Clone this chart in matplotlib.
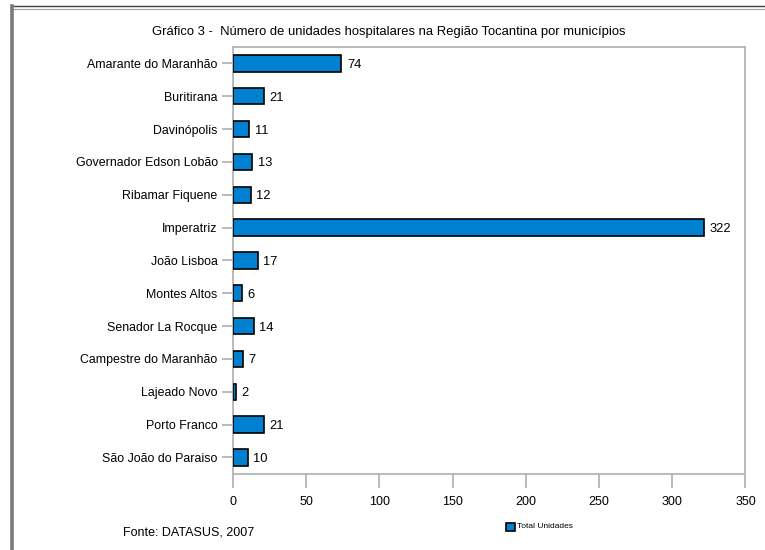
import matplotlib
matplotlib.use("Agg")
import matplotlib.pyplot as plt
from matplotlib.lines import Line2D
from matplotlib.patches import Rectangle

plt.rcParams['font.family'] = ['Liberation Sans', 'DejaVu Sans']

municipios = [
    "Amarante do Maranhão", "Buritirana", "Davinópolis", "Governador Edson Lobão",
    "Ribamar Fiquene", "Imperatriz", "João Lisboa", "Montes Altos",
    "Senador La Rocque", "Campestre do Maranhão", "Lajeado Novo", "Porto Franco",
    "São João do Paraiso",
]
unidades = [74, 21, 11, 13, 12, 322, 17, 6, 14, 7, 2, 21, 10]
x_ticks = [0, 50, 100, 150, 200, 250, 300, 350]

titulo = "Gráfico 3 -  Número de unidades hospitalares na Região Tocantina por municípios"
fonte = "Fonte: DATASUS, 2007"
serie = "Total Unidades"

bar_color = "#0080d0"
axis_gray = "#b4b4b4"

fig = plt.figure(figsize=(7.65, 5.5), dpi=100)
ax = fig.add_axes([0.3046, 0.1385, 0.9745 - 0.3046, 0.9145 - 0.1385])

pos = list(range(len(municipios)))
bars = ax.barh(pos, unidades, height=0.5, color=bar_color,
               edgecolor="black", linewidth=1.2, zorder=3)
ax.set_ylim(len(municipios) - 0.5, -0.5)
ax.set_xlim(0, 350)
ax.set_yticks(pos)
ax.set_yticklabels(municipios, fontsize=8.9)
ax.set_xticks(x_ticks)
ax.set_xticklabels([str(t) for t in x_ticks], fontsize=9)

for sp in ax.spines.values():
    sp.set_color(axis_gray)
    sp.set_linewidth(1.3)
ax.tick_params(axis="y", length=8, width=1.3, color=axis_gray, pad=3)
ax.tick_params(axis="x", length=10, width=1.3, color=axis_gray, pad=6)

for b, v in zip(bars, unidades):
    ax.annotate(str(v), (b.get_width(), b.get_y() + b.get_height() / 2),
                xytext=(4, 0), textcoords="offset points",
                va="center_baseline", ha="left", fontsize=9.3)

fig.text(0.508, 0.941, titulo, ha="center", va="center", fontsize=9.4)
fig.text(0.161, 0.031, fonte, ha="left", va="center", fontsize=9)

# legend entry
lx, ly = 506 / 765, 1 - 531 / 550
fig.patches.append(Rectangle((lx, ly), 9 / 765, 8 / 550, transform=fig.transFigure,
                             facecolor=bar_color, edgecolor="black", linewidth=1.2))
fig.text(517 / 765, 1 - 526 / 550, serie, ha="left", va="center", fontsize=6)

# outer frame (top and left edges)
fig.add_artist(Line2D([11 / 765, 1], [1 - 6 / 550, 1 - 6 / 550],
                      transform=fig.transFigure, color="#404040", linewidth=1.0))
fig.add_artist(Line2D([13 / 765, 1], [1 - 8.5 / 550, 1 - 8.5 / 550],
                      transform=fig.transFigure, color="#a0a0a0", linewidth=0.8))
fig.add_artist(Line2D([11.5 / 765, 11.5 / 765], [0, 1 - 6 / 550],
                      transform=fig.transFigure, color="#7a7a7a", linewidth=2.6))

fig.savefig("out.png", dpi=100)
